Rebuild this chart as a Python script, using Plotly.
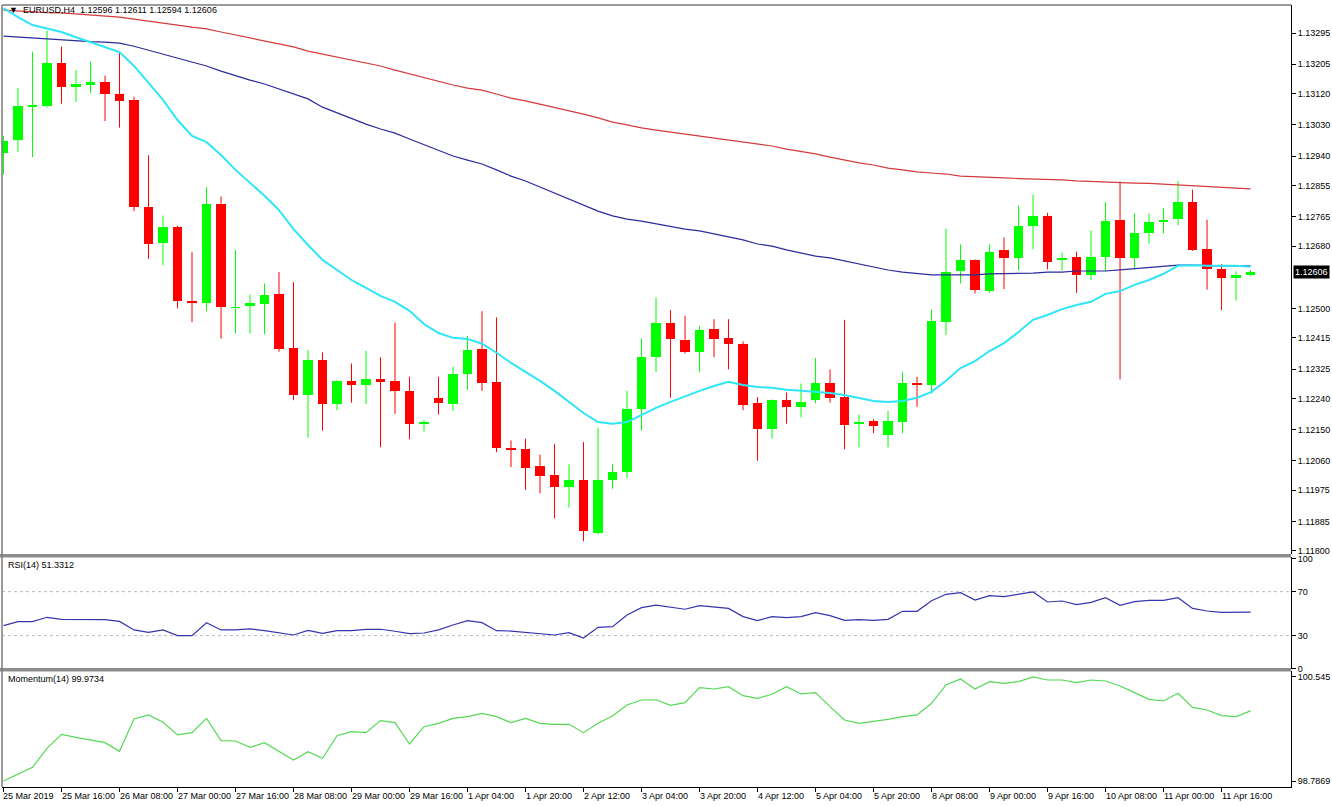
import plotly.graph_objects as go

# ---------------- data (EURUSD H4) ----------------
opens = [1.12950,1.12985,1.13084,1.13085,1.13208,1.13140,1.13145,1.13153,1.13119,1.13101,
         1.12794,1.12689,1.12735,1.12521,1.12515,1.12801,1.12502,1.12506,1.12513,1.12541,
         1.12385,1.12250,1.12351,1.12224,1.12291,1.12278,1.12295,1.12291,1.12262,1.12167,
         1.12242,1.12224,1.12311,1.12382,1.12288,1.12098,1.12094,1.12044,1.12020,1.11984,
         1.12005,1.11853,1.12005,1.12027,1.12211,1.12361,1.12459,1.12409,1.12373,1.12441,
         1.12416,1.12398,1.12226,1.12152,1.12235,1.12216,1.12235,1.12286,1.12244,1.12165,
         1.12175,1.12136,1.12173,1.12286,1.12278,1.12460,1.12607,1.12639,1.12549,1.12668,
         1.12646,1.12738,1.12766,1.12639,1.12649,1.12597,1.12648,1.12756,1.12646,1.12717,
         1.12750,1.12758,1.12807,1.12671,1.12615,1.12589,1.12596]
highs = [1.12998,1.13137,1.13241,1.13302,1.13256,1.13188,1.13213,1.13172,1.13239,1.13111,
         1.12942,1.12768,1.12738,1.12663,1.12850,1.12823,1.12669,1.12540,1.12572,1.12605,
         1.12576,1.12380,1.12373,1.12293,1.12341,1.12377,1.12359,1.12459,1.12303,1.12178,
         1.12303,1.12332,1.12421,1.12492,1.12474,1.12119,1.12124,1.12078,1.12109,1.12050,
         1.12114,1.12155,1.12050,1.12262,1.12413,1.12531,1.12495,1.12479,1.12449,1.12469,
         1.12469,1.12405,1.12244,1.12237,1.12257,1.12283,1.12357,1.12324,1.12467,1.12194,
         1.12180,1.12204,1.12316,1.12303,1.12497,1.12730,1.12685,1.12641,1.12685,1.12705,
         1.12797,1.12828,1.12776,1.12661,1.12664,1.12725,1.12807,1.12866,1.12774,1.12774,
         1.12789,1.12868,1.12843,1.12756,1.12628,1.12607,1.12611]
lows = [1.12886,1.12952,1.12937,1.13080,1.13091,1.13096,1.13121,1.13041,1.13022,1.12781,
        1.12643,1.12625,1.12500,1.12460,1.12492,1.12413,1.12428,1.12428,1.12426,1.12375,
        1.12235,1.12127,1.12147,1.12206,1.12228,1.12224,1.12099,1.12196,1.12122,1.12145,
        1.12194,1.12204,1.12265,1.12262,1.12085,1.12042,1.11976,1.11966,1.11894,1.11925,
        1.11828,1.11848,1.11979,1.12010,1.12147,1.12316,1.12242,1.12370,1.12316,1.12359,
        1.12324,1.12206,1.12060,1.12124,1.12167,1.12186,1.12226,1.12228,1.12093,1.12099,
        1.12140,1.12099,1.12140,1.12216,1.12254,1.12423,1.12572,1.12543,1.12545,1.12556,
        1.12610,1.12671,1.12613,1.12610,1.12545,1.12582,1.12607,1.12295,1.12615,1.12687,
        1.12717,1.12740,1.12666,1.12554,1.12495,1.12523,1.12594]
closes = [1.12983,1.13085,1.13087,1.13208,1.13139,1.13147,1.13154,1.13118,1.13098,1.12792,
          1.12687,1.12735,1.12520,1.12515,1.12801,1.12503,1.12504,1.12515,1.12540,1.12382,
          1.12250,1.12351,1.12224,1.12291,1.12278,1.12295,1.12290,1.12263,1.12167,1.12173,
          1.12226,1.12311,1.12380,1.12285,1.12096,1.12094,1.12040,1.12015,1.11984,1.12005,
          1.11856,1.12005,1.12027,1.12209,1.12361,1.12457,1.12411,1.12373,1.12438,1.12413,
          1.12397,1.12221,1.12153,1.12235,1.12216,1.12230,1.12286,1.12242,1.12163,1.12173,
          1.12162,1.12175,1.12286,1.12278,1.12464,1.12605,1.12641,1.12552,1.12664,1.12646,
          1.12738,1.12766,1.12635,1.12646,1.12597,1.12649,1.12753,1.12646,1.12717,1.12750,
          1.12756,1.12807,1.12669,1.12613,1.12587,1.12597,1.12606]

ma_fast = [1.13367,1.13341,1.13318,1.13307,1.13298,1.13283,1.13269,1.13255,1.13240,1.13200,
           1.13151,1.13102,1.13044,1.12998,1.12980,1.12943,1.12900,1.12862,1.12825,1.12784,
           1.12729,1.12683,1.12640,1.12611,1.12582,1.12559,1.12536,1.12519,1.12493,1.12455,
           1.12429,1.12415,1.12412,1.12398,1.12372,1.12343,1.12317,1.12291,1.12262,1.12230,
           1.12198,1.12172,1.12167,1.12172,1.12193,1.12213,1.12230,1.12247,1.12262,1.12276,
           1.12288,1.12279,1.12273,1.12271,1.12265,1.12262,1.12259,1.12256,1.12250,1.12242,
           1.12233,1.12230,1.12233,1.12242,1.12259,1.12291,1.12328,1.12348,1.12377,1.12400,
           1.12432,1.12467,1.12481,1.12498,1.12510,1.12519,1.12542,1.12550,1.12568,1.12582,
           1.12600,1.12623,1.12625,1.12623,1.12623,1.12623,1.12620]
ma_mid = [1.13286,1.13283,1.13281,1.13278,1.13275,1.13272,1.13270,1.13269,1.13266,1.13257,
          1.13246,1.13234,1.13223,1.13211,1.13200,1.13185,1.13171,1.13159,1.13148,1.13133,
          1.13119,1.13105,1.13081,1.13064,1.13047,1.13032,1.13018,1.13006,1.12989,1.12972,
          1.12957,1.12940,1.12928,1.12917,1.12900,1.12882,1.12868,1.12851,1.12833,1.12816,
          1.12799,1.12781,1.12767,1.12758,1.12752,1.12744,1.12735,1.12729,1.12724,1.12715,
          1.12706,1.12698,1.12686,1.12680,1.12669,1.12660,1.12651,1.12646,1.12637,1.12628,
          1.12620,1.12611,1.12605,1.12600,1.12597,1.12597,1.12597,1.12597,1.12600,1.12600,
          1.12602,1.12602,1.12605,1.12605,1.12608,1.12608,1.12608,1.12611,1.12614,1.12617,
          1.12620,1.12625,1.12625,1.12623,1.12623,1.12623,1.12623]
ma_slow = [1.13361,1.13358,1.13356,1.13354,1.13353,1.13350,1.13347,1.13344,1.13341,1.13335,
           1.13330,1.13324,1.13318,1.13312,1.13307,1.13298,1.13289,1.13281,1.13272,1.13263,
           1.13255,1.13243,1.13234,1.13226,1.13217,1.13208,1.13200,1.13188,1.13177,1.13165,
           1.13154,1.13145,1.13136,1.13130,1.13119,1.13107,1.13099,1.13090,1.13079,1.13070,
           1.13061,1.13050,1.13038,1.13030,1.13021,1.13015,1.13009,1.13004,1.12998,1.12992,
           1.12986,1.12980,1.12975,1.12969,1.12960,1.12954,1.12946,1.12937,1.12928,1.12920,
           1.12914,1.12905,1.12900,1.12894,1.12891,1.12888,1.12882,1.12881,1.12879,1.12877,
           1.12875,1.12874,1.12872,1.12871,1.12868,1.12866,1.12865,1.12863,1.12862,1.12861,
           1.12859,1.12856,1.12855,1.12853,1.12851,1.12848,1.12845]

rsi = [39.1,42.7,42.7,46.7,44.8,44.8,44.8,44.6,43.0,35.2,
       33.0,35.2,30.0,30.0,41.8,35.2,35.2,36.2,34.5,32.5,
       30.6,34.8,32.1,34.5,34.5,35.8,35.8,34.0,31.8,32.4,
       35.2,39.7,43.6,41.8,34.5,34.2,33.0,32.1,30.6,32.7,
       27.9,37.6,38.2,48.8,55.5,57.8,55.8,54.0,57.3,55.8,
       54.8,47.3,43.6,47.3,46.4,47.3,50.9,48.2,43.9,44.5,
       43.9,44.8,52.1,52.1,61.8,67.6,69.1,62.4,66.4,65.5,
       67.6,69.7,60.6,61.5,58.2,60.3,64.5,57.6,60.9,62.1,
       62.1,64.5,54.8,52.4,51.2,51.2,51.33]
momentum = [98.787,98.905,99.018,99.339,99.576,99.525,99.480,99.435,99.288,99.835,
            99.903,99.779,99.565,99.604,99.846,99.469,99.463,99.356,99.435,99.294,
            99.142,99.283,99.170,99.553,99.621,99.604,99.807,99.773,99.412,99.705,
            99.762,99.846,99.874,99.931,99.874,99.773,99.846,99.762,99.745,99.745,
            99.604,99.762,99.886,100.072,100.156,100.160,100.065,100.111,100.365,100.342,
            100.382,100.229,100.184,100.252,100.382,100.258,100.280,100.043,99.818,99.762,
            99.790,99.829,99.874,99.903,100.100,100.410,100.511,100.342,100.466,100.438,
            100.466,100.545,100.494,100.494,100.449,100.494,100.477,100.393,100.280,100.167,
            100.139,100.269,100.032,99.987,99.891,99.874,99.973]

time_labels = ["25 Mar 2019", "25 Mar 16:00", "26 Mar 08:00", "27 Mar 00:00", "27 Mar 16:00",
               "28 Mar 08:00", "29 Mar 00:00", "29 Mar 16:00", "1 Apr 04:00", "1 Apr 20:00",
               "2 Apr 12:00", "3 Apr 04:00", "3 Apr 20:00", "4 Apr 12:00", "5 Apr 04:00",
               "5 Apr 20:00", "8 Apr 08:00", "9 Apr 00:00", "9 Apr 16:00", "10 Apr 08:00",
               "11 Apr 00:00", "11 Apr 16:00"]
label_step = 4

price_ticks = [1.13295, 1.13205, 1.13120, 1.13030, 1.12940, 1.12855, 1.12765, 1.12680,
               1.12500, 1.12415, 1.12325, 1.12240, 1.12150, 1.12060, 1.11975,
               1.11885, 1.11800]
rsi_ticks = [100, 70, 30, 0]
rsi_levels = [70, 30]
mom_ticks = [100.545, 98.7869]
mom_tick_text = ["100.545", "98.7869"]
last_price = 1.12606
rsi_last = 51.3312
mom_last = 99.9734

# ---------------- styling ----------------
BULL = "#00ff00"
BEAR = "#ff0000"
FONT = "Liberation Sans"
n = len(opens)
idx = list(range(n))

fig = go.Figure()

# wicks
for col, cond in ((BULL, lambda o, c: c >= o), (BEAR, lambda o, c: c < o)):
    wx, wy = [], []
    for i in idx:
        if cond(opens[i], closes[i]):
            wx += [i, i, None]
            wy += [lows[i], highs[i], None]
    fig.add_trace(go.Scatter(x=wx, y=wy, mode="lines", line=dict(color=col, width=1),
                             hoverinfo="skip", showlegend=False, xaxis="x", yaxis="y"))

# bodies
for col, bull in ((BULL, True), (BEAR, False)):
    bx, bb, bh = [], [], []
    for i in idx:
        if (closes[i] >= opens[i]) == bull:
            lo = min(opens[i], closes[i])
            hi = max(opens[i], closes[i])
            bx.append(i)
            bb.append(lo)
            bh.append(max(hi - lo, 0.00002))
    fig.add_trace(go.Bar(x=bx, y=bh, base=bb, width=0.68,
                         marker=dict(color=col, line=dict(width=0)),
                         showlegend=False, xaxis="x", yaxis="y"))

# moving averages
fig.add_trace(go.Scatter(x=idx, y=ma_slow, mode="lines", line=dict(color="#d43a3a", width=1.2),
                         showlegend=False, xaxis="x", yaxis="y"))
fig.add_trace(go.Scatter(x=idx, y=ma_mid, mode="lines", line=dict(color="#2b2b9e", width=1.2),
                         showlegend=False, xaxis="x", yaxis="y"))
fig.add_trace(go.Scatter(x=idx, y=ma_fast, mode="lines", line=dict(color="#2ee6f7", width=2),
                         showlegend=False, xaxis="x", yaxis="y"))

# RSI
fig.add_trace(go.Scatter(x=idx, y=rsi, mode="lines", line=dict(color="#3535b0", width=1.2),
                         showlegend=False, xaxis="x", yaxis="y2"))
# Momentum
fig.add_trace(go.Scatter(x=idx, y=momentum, mode="lines", line=dict(color="#55d955", width=1.2),
                         showlegend=False, xaxis="x", yaxis="y3"))

shapes = []
for lv in rsi_levels:
    shapes.append(dict(type="line", xref="x domain", yref="y2", x0=0, x1=1, y0=lv, y1=lv,
                       line=dict(color="#b8b8b8", width=1, dash="dot"), layer="below"))

# panel frame / separators (paper coords)
H_PLOT = 782.0
def py(pix):
    return (787.0 - pix) / H_PLOT

for y0p, y1p in ((554, 557.5), (668, 671.5)):
    shapes.append(dict(type="rect", xref="paper", yref="paper", x0=-0.002, x1=1.0,
                       y0=py(y1p), y1=py(y0p), fillcolor="#8c8c8c", line=dict(width=0)))
shapes.append(dict(type="line", xref="paper", yref="paper", x0=0, x1=0, y0=0, y1=1,
                   line=dict(color="#7a7a7a", width=1.5)))
shapes.append(dict(type="line", xref="paper", yref="paper", x0=0, x1=1, y0=1, y1=1,
                   line=dict(color="#7a7a7a", width=1.5)))

annotations = []
for k, lab in enumerate(time_labels):
    annotations.append(dict(x=k * label_step, y=0, xref="x", yref="paper", text=lab,
                            showarrow=False, xanchor="left", yanchor="top", xshift=-2, yshift=-2,
                            font=dict(family=FONT, size=9, color="#000000")))

annotations.append(dict(x=0.004, y=py(10), xref="paper", yref="paper",
                        text="\u25BC  EURUSD,H4  %.5f %.5f %.5f %.5f" % (opens[-1], highs[-1], lows[-1], closes[-1]),
                        showarrow=False, xanchor="left", yanchor="middle",
                        font=dict(family=FONT, size=9, color="#000000")))
annotations.append(dict(x=0.003, y=py(565), xref="paper", yref="paper",
                        text="RSI(14) %.4f" % rsi_last, showarrow=False, xanchor="left",
                        yanchor="middle", font=dict(family=FONT, size=9, color="#000000")))
annotations.append(dict(x=0.003, y=py(679), xref="paper", yref="paper",
                        text="Momentum(14) %.4f" % mom_last, showarrow=False, xanchor="left",
                        yanchor="middle", font=dict(family=FONT, size=9, color="#000000")))
annotations.append(dict(x=1.0, y=last_price, xref="paper", yref="y",
                        text="%.5f" % last_price, showarrow=False, xanchor="left", xshift=2,
                        yanchor="middle", bgcolor="#000000", borderpad=1,
                        font=dict(family=FONT, size=9, color="#ffffff")))

axis_font = dict(family=FONT, size=9, color="#000000")

fig.update_layout(
    width=1332, height=806,
    margin=dict(l=2, r=41, t=5, b=19),
    paper_bgcolor="#ffffff", plot_bgcolor="#ffffff",
    barmode="overlay", bargap=0,
    showlegend=False,
    xaxis=dict(range=[-0.103, 88.79], anchor="y3", showgrid=False, zeroline=False,
               showline=True, linecolor="#000000", linewidth=1,
               tickvals=[k * label_step for k in range(len(time_labels))],
               showticklabels=False, ticks="outside", ticklen=4, tickcolor="#000000"),
    yaxis=dict(domain=[py(554), 1.0], range=[1.11791, 1.13376], side="right", anchor="x",
               showgrid=False, zeroline=False, showline=True, linecolor="#000000", linewidth=1,
               tickvals=price_ticks, ticktext=["%.5f" % v for v in price_ticks],
               ticks="outside", ticklen=4, tickcolor="#000000", tickfont=axis_font),
    yaxis2=dict(domain=[py(669), py(557)], range=[-0.3, 101.5], side="right", anchor="x",
                showgrid=False, zeroline=False, showline=True, linecolor="#000000", linewidth=1,
                tickvals=rsi_ticks, ticks="outside", ticklen=4, tickcolor="#000000",
                tickfont=axis_font),
    yaxis3=dict(domain=[0, py(671)], range=[98.6855, 100.646], side="right", anchor="x",
                showgrid=False, zeroline=False, showline=True, linecolor="#000000", linewidth=1,
                tickvals=mom_ticks, ticktext=mom_tick_text, ticks="outside", ticklen=4,
                tickcolor="#000000", tickfont=axis_font),
    shapes=shapes,
    annotations=annotations,
)

fig.write_html("out.html")
